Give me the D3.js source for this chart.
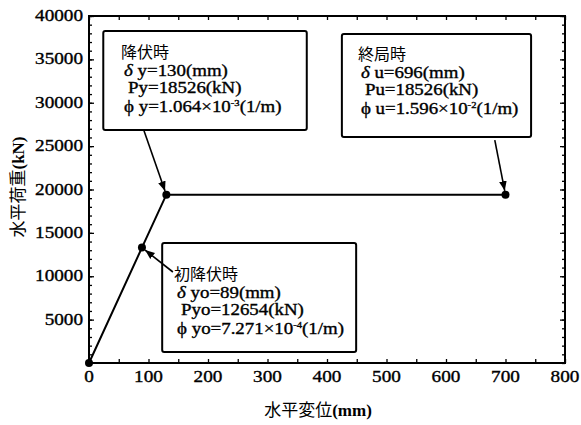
<!DOCTYPE html>
<html>
<head>
<meta charset="utf-8">
<script src="https://cdn.jsdelivr.net/npm/d3@7"></script>
<style>
  body { margin: 0; background: #fff; }
</style>
</head>
<body>
<script>
// load-displacement curve (horizontal displacement mm, horizontal load kN)
const dispMm = [0, 89, 130, 700];
const loadKn = [0, 13300, 19400, 19400];

const xTicks = [0, 100, 200, 300, 400, 500, 600, 700, 800];
const yTicks = [5000, 10000, 15000, 20000, 25000, 30000, 35000, 40000];

// annotation text, one block per marked point
const noteTitles = ["初降伏時", "降伏時", "終局時"];
const noteDelta = ["yo=89(mm)", "y=130(mm)", "u=696(mm)"];
const noteLoad = ["Pyo=12654(kN)", "Py=18526(kN)", "Pu=18526(kN)"];
const notePhiBase = [" yo=7.271×10", " y=1.064×10", " u=1.596×10"];
const notePhiExp = ["-4", "-3", "-2"];

const SERIF = "'Liberation Serif', 'DejaVu Serif', 'Times New Roman', serif";
const JP = "'Noto Sans CJK JP', sans-serif";

const width = 581, height = 425;
const margin = {top: 16, right: 16, bottom: 62, left: 89};

const svg = d3.select("body").append("svg")
    .attr("width", width)
    .attr("height", height)
    .attr("font-family", SERIF);

const x = d3.scaleLinear().domain([0, 800]).range([margin.left, width - margin.right]);
const y = d3.scaleLinear().domain([0, 40000]).range([height - margin.bottom, margin.top]);

// minor ticks
const xMinor = d3.range(0, 801, 50);
const yMinor = d3.range(0, 40001, 1000);

function tickStyle(g) {
    g.select(".domain").remove();
    g.selectAll("line").attr("stroke", "#000").attr("stroke-width", 1.3);
}

svg.append("g")
    .attr("transform", `translate(0,${y(0)})`)
    .call(d3.axisTop(x).tickValues(xMinor).tickSize(4).tickFormat(""))
    .call(tickStyle);
svg.append("g")
    .attr("transform", `translate(0,${y(40000)})`)
    .call(d3.axisBottom(x).tickValues(xMinor).tickSize(4).tickFormat(""))
    .call(tickStyle);
svg.append("g")
    .attr("transform", `translate(${x(0)},0)`)
    .call(d3.axisRight(y).tickValues(yMinor).tickSize(3).tickFormat(""))
    .call(tickStyle);
svg.append("g")
    .attr("transform", `translate(${x(800)},0)`)
    .call(d3.axisLeft(y).tickValues(yMinor).tickSize(3).tickFormat(""))
    .call(tickStyle);
// major y ticks a bit longer
svg.append("g")
    .attr("transform", `translate(${x(0)},0)`)
    .call(d3.axisRight(y).tickValues(yTicks).tickSize(5).tickFormat(""))
    .call(tickStyle);
svg.append("g")
    .attr("transform", `translate(${x(800)},0)`)
    .call(d3.axisLeft(y).tickValues(yTicks).tickSize(5).tickFormat(""))
    .call(tickStyle);

// frame
svg.append("rect")
    .attr("x", x(0)).attr("y", y(40000))
    .attr("width", x(800) - x(0)).attr("height", y(0) - y(40000))
    .attr("fill", "none").attr("stroke", "#000").attr("stroke-width", 2);

// text a little heavier, like the scanned original
function heavy(sel) {
    return sel.attr("stroke", "#000").attr("stroke-width", 0.35);
}

// tick labels
svg.append("g").selectAll("text")
    .data(xTicks)
    .join("text")
    .attr("transform", d => `translate(${x(d)},${y(0) + 19}) scale(1.2,1)`)
    .attr("text-anchor", "middle")
    .attr("font-size", 16)
    .call(heavy)
    .text(d => d);

svg.append("g").selectAll("text")
    .data(yTicks)
    .join("text")
    .attr("transform", d => `translate(${x(0) - 6},${y(d) + 5}) scale(1.2,1)`)
    .attr("text-anchor", "end")
    .attr("font-size", 16)
    .call(heavy)
    .text(d => d);

// axis titles
const xt = svg.append("text")
    .attr("transform", `translate(318,416)`)
    .attr("text-anchor", "middle")
    .attr("font-size", 17);
xt.append("tspan").attr("font-family", JP).text("水平変位");
xt.append("tspan").attr("font-weight", "bold").text("(mm)");

const yt = svg.append("text")
    .attr("transform", `translate(24,187) rotate(-90)`)
    .attr("text-anchor", "middle")
    .attr("font-size", 17);
yt.append("tspan").attr("font-family", JP).text("水平荷重");
yt.append("tspan").attr("font-weight", "bold").text("(kN)");

// curve
const pts = dispMm.map((d, i) => [d, loadKn[i]]);
svg.append("path")
    .datum(pts)
    .attr("fill", "none")
    .attr("stroke", "#000")
    .attr("stroke-width", 2)
    .attr("d", d3.line().x(d => x(d[0])).y(d => y(d[1])));

svg.append("g").selectAll("circle")
    .data(pts)
    .join("circle")
    .attr("cx", d => x(d[0]))
    .attr("cy", d => y(d[1]))
    .attr("r", 4)
    .attr("fill", "#000");

// annotation boxes, placed in data units: [x0, x1] mm, [yT, yB] kN, text origin, leader start, target point
const boxes = [
    {x0: 123, x1: 449, yT: 13830, yB: 1270, tx: 148, ty: 9568, lead: [141, 10490], pt: 1, title: 0},
    {x0: 24, x1: 366, yT: 38270, yB: 26860, tx: 59, ty: 35159, lead: [92, 26860], pt: 2, title: 1},
    {x0: 425, x1: 743, yT: 37925, yB: 26050, tx: 457, ty: 34928, lead: [682, 25700], pt: 3, title: 2}
];

svg.append("defs").append("marker")
    .attr("id", "ah")
    .attr("viewBox", "0 0 10 10")
    .attr("refX", 10).attr("refY", 5)
    .attr("markerWidth", 6).attr("markerHeight", 6)
    .attr("orient", "auto")
    .append("path")
    .attr("d", "M0,1L10,5L0,9z")
    .attr("fill", "#000");

boxes.forEach(b => {
    svg.append("rect")
        .attr("x", x(b.x0)).attr("y", y(b.yT))
        .attr("width", x(b.x1) - x(b.x0)).attr("height", y(b.yB) - y(b.yT))
        .attr("fill", "#fff").attr("stroke", "#000").attr("stroke-width", 2)
        .attr("rx", 2);

    // leader line stops just short of the point
    const px = x(dispMm[b.pt]), py = y(loadKn[b.pt]);
    const sx = x(b.lead[0]), sy = y(b.lead[1]);
    const dx = px - sx, dy = py - sy, len = Math.hypot(dx, dy);
    svg.append("line")
        .attr("x1", sx).attr("y1", sy)
        .attr("x2", px - dx / len * 4).attr("y2", py - dy / len * 4)
        .attr("stroke", "#000").attr("stroke-width", 1.6)
        .attr("marker-end", "url(#ah)");

    const i = b.title;
    const tx = x(b.tx), ty = y(b.ty);
    const lh = 18;
    svg.append("text")
        .attr("font-family", JP)
        .attr("x", tx - 3).attr("y", ty)
        .attr("font-size", 16)
        .text(noteTitles[i]);

    const t1 = svg.append("text")
        .attr("transform", `translate(${tx},${ty + lh}) scale(1.18,1)`)
        .attr("font-size", 16)
        .call(heavy);
    t1.append("tspan").attr("font-style", "italic").text("δ ");
    t1.append("tspan").text(noteDelta[i]);

    svg.append("text")
        .attr("transform", `translate(${tx + 4},${ty + 2 * lh - 1}) scale(1.18,1)`)
        .attr("font-size", 16)
        .call(heavy)
        .text(noteLoad[i]);

    const t3 = svg.append("text")
        .attr("transform", `translate(${tx},${ty + 3 * lh}) scale(1.18,1)`)
        .attr("font-size", 16)
        .call(heavy);
    t3.append("tspan").text("ϕ");
    t3.append("tspan").text(notePhiBase[i]);
    t3.append("tspan").attr("dy", -6).attr("font-size", 9).text(notePhiExp[i]);
    t3.append("tspan").attr("dy", 6).text("(1/m)");
});
</script>
</body>
</html>
